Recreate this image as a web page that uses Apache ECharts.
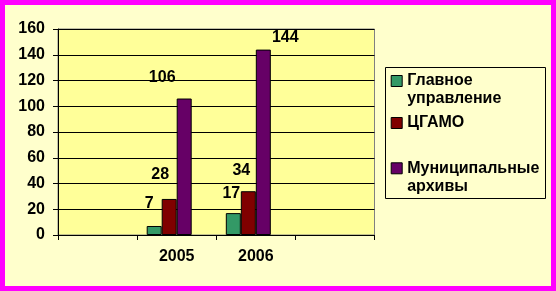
<!DOCTYPE html>
<html>
<head>
<meta charset="utf-8">
<script src="https://cdn.jsdelivr.net/npm/echarts@6/dist/echarts.min.js"></script>
<style>
  html, body { margin: 0; padding: 0; background: #FFFFCC; }
  #frame { position: absolute; left: 0; top: 0; width: 556px; height: 291px; box-sizing: border-box; border: 5px solid #FF00FF; background: #FFFFCC; }
  #chart { width: 546px; height: 281px; }
</style>
</head>
<body>
<div id="frame"><div id="chart"></div></div>
<script>
// ---- data ----
const categories = ['', '2005', '2006', ''];
const seriesNames = ['Главное управление', 'ЦГАМО', 'Муниципальные архивы'];
const glavnoe = [null, 7, 17, null];
const tsgamo = [null, 28, 34, null];
const municipal = [null, 106, 144, null];
const yTicks = [0, 20, 40, 60, 80, 100, 120, 140, 160];

// ---- styling ----
const colors = ['#339966', '#800000', '#660066'];
const FONT = 'Liberation Sans, Arial, sans-serif';
// manual label nudges (dx, dy) as in the original
const labelNudges = [
  [null, [-5, -14], [-2, -12], null],
  [null, [-9, -16], [-7, -13], null],
  [null, [-22, -13], [22, -4], null]
];
const legendText = {
  'Главное управление': '\nГлавное\nуправление',
  'ЦГАМО': 'ЦГАМО',
  'Муниципальные архивы': '\nМуниципальные\nархивы'
};

function buildData(values, nudges) {
  return values.map((v, i) => {
    if (v === null) return null;
    return { value: v, label: { offset: nudges[i] } };
  });
}

const valueSets = [glavnoe, tsgamo, municipal];
const series = valueSets.map((vals, k) => ({
  name: seriesNames[k],
  type: 'bar',
  barWidth: 15,
  barGap: '0%',
  data: buildData(vals, labelNudges[k]),
  itemStyle: { color: colors[k], borderColor: '#000', borderWidth: 1 },
  label: {
    show: true, position: 'top', distance: 0,
    color: '#000', fontFamily: FONT, fontWeight: 'bold', fontSize: 16
  },
  animation: false
}));
// empty slot (Excel reserves it) — keeps the bar group offset as in the original
series.push({ name: '_pad', type: 'bar', barWidth: 15, barGap: '0%', data: [null, null, null, null], silent: true, animation: false });

const legendCommon = {
  orient: 'vertical', left: 385.7, itemWidth: 11, itemHeight: 11, padding: 0,
  icon: 'rect', selectedMode: false,
  itemStyle: { borderColor: '#000', borderWidth: 1 },
  textStyle: { fontFamily: FONT, fontWeight: 'bold', fontSize: 16, color: '#000', lineHeight: 18 },
  formatter: n => legendText[n]
};

const chart = echarts.init(document.getElementById('chart'), null, { renderer: 'canvas' });
chart.setOption({
  animation: false,
  backgroundColor: '#FFFFCC',
  color: colors,
  grid: {
    left: 53, top: 24, width: 316.5, height: 206,
    show: true, backgroundColor: '#FFFF99', borderColor: '#808080', borderWidth: 1
  },
  legend: [
    Object.assign({}, legendCommon, { data: [seriesNames[0]], top: 49 }),
    Object.assign({}, legendCommon, { data: [seriesNames[1]], top: 109 }),
    Object.assign({}, legendCommon, { data: [seriesNames[2]], top: 136.3 })
  ],
  xAxis: {
    type: 'category', data: categories, boundaryGap: true,
    axisLine: { lineStyle: { color: '#000', width: 1 } },
    axisTick: { show: true, interval: 0, length: 5, lineStyle: { color: '#000' } },
    axisLabel: { interval: 0, margin: 14, color: '#000', fontFamily: FONT, fontWeight: 'bold', fontSize: 16 },
    splitLine: { show: false }
  },
  yAxis: {
    type: 'value', min: yTicks[0], max: yTicks[yTicks.length - 1], interval: yTicks[1] - yTicks[0],
    axisLine: { show: true, lineStyle: { color: '#000', width: 1 } },
    axisTick: { show: true, length: 5, lineStyle: { color: '#000' } },
    axisLabel: { margin: 13, color: '#000', fontFamily: FONT, fontWeight: 'bold', fontSize: 16 },
    splitLine: { show: true, lineStyle: { color: '#000', width: 1 } }
  },
  graphic: [{
    type: 'rect', z: -1, silent: true,
    shape: { x: 380.5, y: 62.5, width: 160, height: 131 },
    style: { fill: '#FFFFCC', stroke: '#000', lineWidth: 1 }
  }],
  series: series
});
</script>
</body>
</html>
